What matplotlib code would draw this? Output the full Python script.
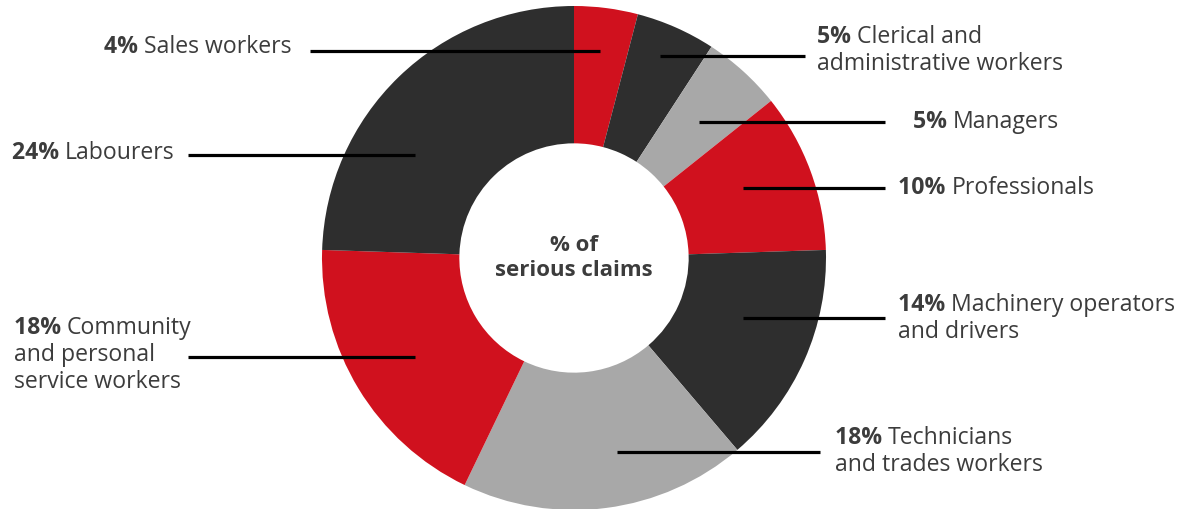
import matplotlib.pyplot as plt

# segment data, clockwise from the top
categories = ['Sales workers', 'Clerical and\nadministrative workers', 'Managers',
              'Professionals', 'Machinery operators\nand drivers',
              'Technicians\nand trades workers',
              'Community\nand personal\nservice workers', 'Labourers']
shares = [4, 5, 5, 10, 14, 18, 18, 24]
centre_label = '% of\nserious claims'

RED = '#d0111e'
DARK = '#2e2e2e'
GREY = '#a8a8a8'
colours = [RED, DARK, GREY, RED, DARK, GREY, RED, DARK]

W, H = 1187, 509
FONT = 'Open Sans'
FS = 16.6
TXT = '#3c3c3c'

# label layout in pixel coords (y from top):
# text x, first-line y, alignment, leader line x0, x1, y
layout = [
    (292, 47, 'right', 310, 600, 51),
    (817, 37, 'left', 660, 805, 56),
    (913, 122, 'left', 699, 885, 122),
    (898, 188, 'left', 743, 885, 188),
    (898, 305, 'left', 743, 885, 318),
    (835, 438, 'left', 617, 820, 452),
    (14, 328, 'left', 188, 415, 357),
    (12, 153, 'left', 188, 415, 155),
]

fig = plt.figure(figsize=(W / 100, H / 100), dpi=100)
ax = fig.add_axes([0, 0, 1, 1])

R = 252
ax.pie(shares, colors=colours, radius=R, center=(574, H - 258), startangle=90,
       counterclock=False, frame=True,
       wedgeprops=dict(width=R * 0.545, linewidth=0))
ax.set_xlim(0, W)
ax.set_ylim(0, H)
ax.set_aspect('equal')
ax.axis('off')

ax.text(574, H - 258, centre_label, ha='center', va='center', fontsize=16,
        fontweight='bold', family=FONT, color=TXT, linespacing=1.25)

renderer = fig.canvas.get_renderer()
LINE = 27

for share, name, (tx, ty, align, x0, x1, ly) in zip(shares, categories, layout):
    ax.plot([x0, x1], [H - ly, H - ly], color='black', lw=2.3, solid_capstyle='butt')
    lines = name.split('\n')
    pct = f'{share}% '
    b = ax.text(0, 0, pct, fontsize=FS, fontweight='bold', family=FONT, color=TXT,
                va='center')
    r = ax.text(0, 0, lines[0], fontsize=FS, family=FONT, color=TXT, va='center')
    bw = b.get_window_extent(renderer).width
    rw = r.get_window_extent(renderer).width
    start = tx - (bw + rw) if align == 'right' else tx
    b.set_position((start, H - ty))
    r.set_position((start + bw, H - ty))
    for i, extra in enumerate(lines[1:], start=1):
        ax.text(start, H - ty - i * LINE, extra, fontsize=FS, family=FONT,
                color=TXT, va='center')

fig.savefig('out.png', dpi=100, facecolor='white')
